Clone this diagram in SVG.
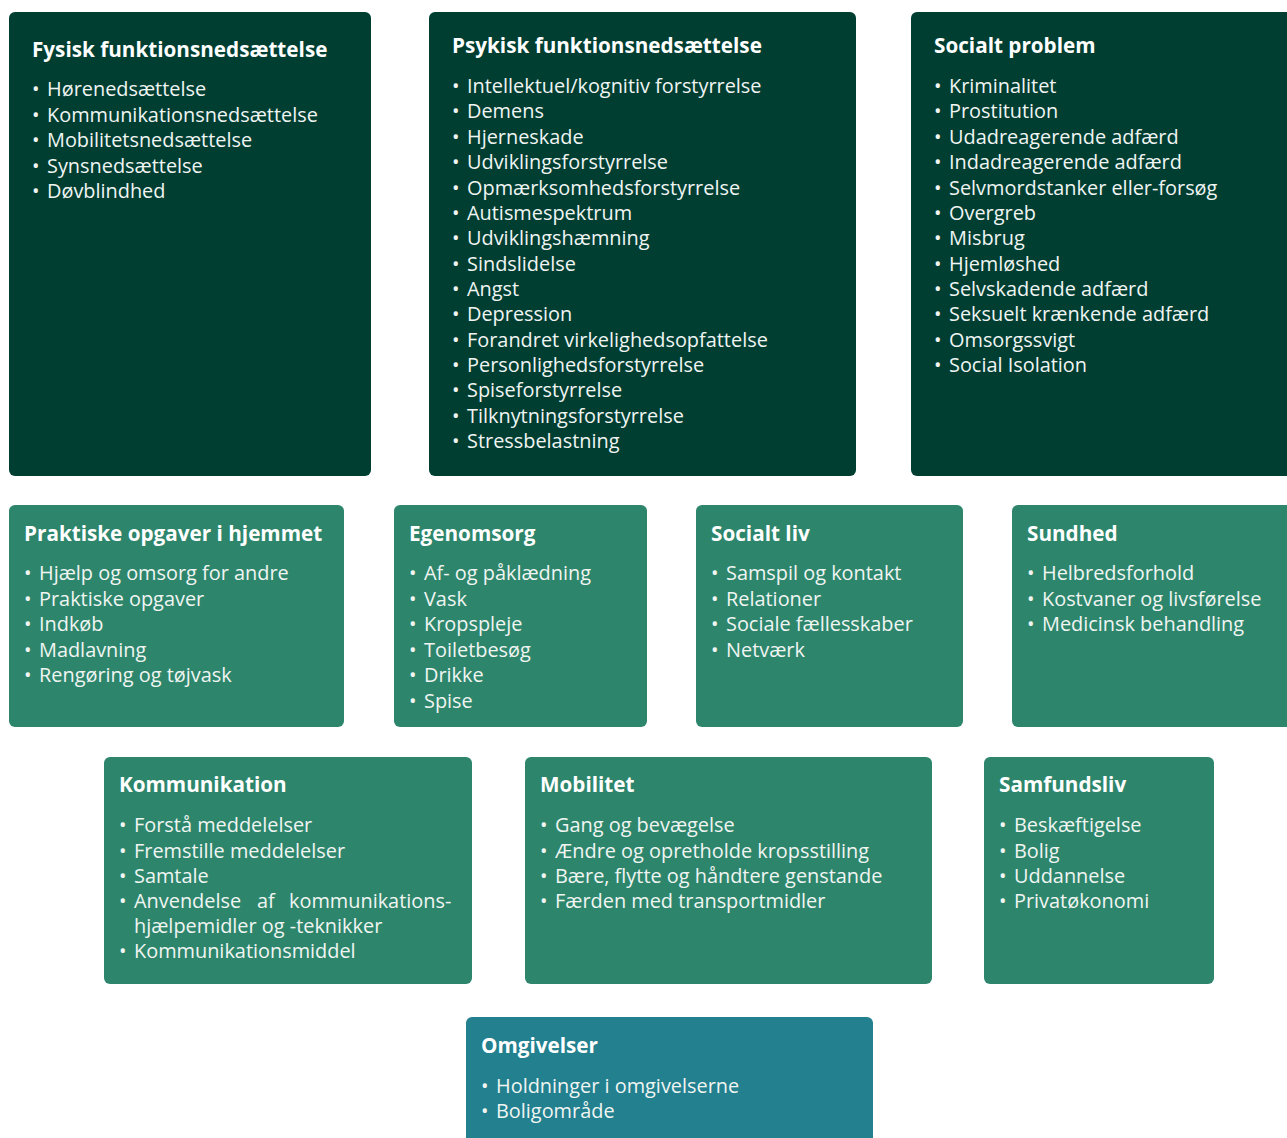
<svg xmlns="http://www.w3.org/2000/svg" width="1287" height="1138" viewBox="0 0 1287 1138">
<style>
.dark{fill:#003e32}
.mid{fill:#2d866c}
.teal{fill:#22808f}
.t{font-family:"Open Sans","Noto Sans",sans-serif;font-weight:700;font-size:20.7px;fill:#ffffff}
.i{font-family:"Open Sans","Noto Sans",sans-serif;font-weight:400;font-size:19.9px;fill:#f0f5f2}
</style>
<rect width="1287" height="1138" fill="#ffffff"/>
<g id="fysisk">
<rect class="dark" x="9" y="12" width="362" height="464" rx="6"/>
<text class="t" x="32" y="57">Fysisk funktionsnedsættelse</text>
<text class="i"><tspan x="32" y="96">•</tspan><tspan x="47" y="96">Hørenedsættelse</tspan><tspan x="32" y="122">•</tspan><tspan x="47" y="122">Kommunikationsnedsættelse</tspan><tspan x="32" y="147">•</tspan><tspan x="47" y="147">Mobilitetsnedsættelse</tspan><tspan x="32" y="173">•</tspan><tspan x="47" y="173">Synsnedsættelse</tspan><tspan x="32" y="198">•</tspan><tspan x="47" y="198">Døvblindhed</tspan></text>
</g>
<g id="psykisk">
<rect class="dark" x="429" y="12" width="427" height="464" rx="6"/>
<text class="t" x="452" y="53">Psykisk funktionsnedsættelse</text>
<text class="i"><tspan x="452" y="93">•</tspan><tspan x="467" y="93">Intellektuel/kognitiv forstyrrelse</tspan><tspan x="452" y="118">•</tspan><tspan x="467" y="118">Demens</tspan><tspan x="452" y="144">•</tspan><tspan x="467" y="144">Hjerneskade</tspan><tspan x="452" y="169">•</tspan><tspan x="467" y="169">Udviklingsforstyrrelse</tspan><tspan x="452" y="195">•</tspan><tspan x="467" y="195">Opmærksomhedsforstyrrelse</tspan><tspan x="452" y="220">•</tspan><tspan x="467" y="220">Autismespektrum</tspan><tspan x="452" y="245">•</tspan><tspan x="467" y="245">Udviklingshæmning</tspan><tspan x="452" y="271">•</tspan><tspan x="467" y="271">Sindslidelse</tspan><tspan x="452" y="296">•</tspan><tspan x="467" y="296">Angst</tspan><tspan x="452" y="321">•</tspan><tspan x="467" y="321">Depression</tspan><tspan x="452" y="347">•</tspan><tspan x="467" y="347">Forandret virkelighedsopfattelse</tspan><tspan x="452" y="372">•</tspan><tspan x="467" y="372">Personlighedsforstyrrelse</tspan><tspan x="452" y="397">•</tspan><tspan x="467" y="397">Spiseforstyrrelse</tspan><tspan x="452" y="423">•</tspan><tspan x="467" y="423">Tilknytningsforstyrrelse</tspan><tspan x="452" y="448">•</tspan><tspan x="467" y="448">Stressbelastning</tspan></text>
</g>
<g id="socialt-problem">
<rect class="dark" x="911" y="12" width="390" height="464" rx="6"/>
<text class="t" x="934" y="53">Socialt problem</text>
<text class="i"><tspan x="934" y="93">•</tspan><tspan x="949" y="93">Kriminalitet</tspan><tspan x="934" y="118">•</tspan><tspan x="949" y="118">Prostitution</tspan><tspan x="934" y="144">•</tspan><tspan x="949" y="144">Udadreagerende adfærd</tspan><tspan x="934" y="169">•</tspan><tspan x="949" y="169">Indadreagerende adfærd</tspan><tspan x="934" y="195">•</tspan><tspan x="949" y="195">Selvmordstanker eller-forsøg</tspan><tspan x="934" y="220">•</tspan><tspan x="949" y="220">Overgreb</tspan><tspan x="934" y="245">•</tspan><tspan x="949" y="245">Misbrug</tspan><tspan x="934" y="271">•</tspan><tspan x="949" y="271">Hjemløshed</tspan><tspan x="934" y="296">•</tspan><tspan x="949" y="296">Selvskadende adfærd</tspan><tspan x="934" y="321">•</tspan><tspan x="949" y="321">Seksuelt krænkende adfærd</tspan><tspan x="934" y="347">•</tspan><tspan x="949" y="347">Omsorgssvigt</tspan><tspan x="934" y="372">•</tspan><tspan x="949" y="372">Social Isolation</tspan></text>
</g>
<g id="praktiske">
<rect class="mid" x="9" y="505" width="335" height="222" rx="6"/>
<text class="t" x="24" y="541">Praktiske opgaver i hjemmet</text>
<text class="i"><tspan x="24" y="580">•</tspan><tspan x="39" y="580">Hjælp og omsorg for andre</tspan><tspan x="24" y="606">•</tspan><tspan x="39" y="606">Praktiske opgaver</tspan><tspan x="24" y="631">•</tspan><tspan x="39" y="631">Indkøb</tspan><tspan x="24" y="657">•</tspan><tspan x="39" y="657">Madlavning</tspan><tspan x="24" y="682">•</tspan><tspan x="39" y="682">Rengøring og tøjvask</tspan></text>
</g>
<g id="egenomsorg">
<rect class="mid" x="394" y="505" width="253" height="222" rx="6"/>
<text class="t" x="409" y="541">Egenomsorg</text>
<text class="i"><tspan x="409" y="580">•</tspan><tspan x="424" y="580">Af- og påklædning</tspan><tspan x="409" y="606">•</tspan><tspan x="424" y="606">Vask</tspan><tspan x="409" y="631">•</tspan><tspan x="424" y="631">Kropspleje</tspan><tspan x="409" y="657">•</tspan><tspan x="424" y="657">Toiletbesøg</tspan><tspan x="409" y="682">•</tspan><tspan x="424" y="682">Drikke</tspan><tspan x="409" y="708">•</tspan><tspan x="424" y="708">Spise</tspan></text>
</g>
<g id="socialt-liv">
<rect class="mid" x="696" y="505" width="267" height="222" rx="6"/>
<text class="t" x="711" y="541">Socialt liv</text>
<text class="i"><tspan x="711" y="580">•</tspan><tspan x="726" y="580">Samspil og kontakt</tspan><tspan x="711" y="606">•</tspan><tspan x="726" y="606">Relationer</tspan><tspan x="711" y="631">•</tspan><tspan x="726" y="631">Sociale fællesskaber</tspan><tspan x="711" y="657">•</tspan><tspan x="726" y="657">Netværk</tspan></text>
</g>
<g id="sundhed">
<rect class="mid" x="1012" y="505" width="290" height="222" rx="6"/>
<text class="t" x="1027" y="541">Sundhed</text>
<text class="i"><tspan x="1027" y="580">•</tspan><tspan x="1042" y="580">Helbredsforhold</tspan><tspan x="1027" y="606">•</tspan><tspan x="1042" y="606">Kostvaner og livsførelse</tspan><tspan x="1027" y="631">•</tspan><tspan x="1042" y="631">Medicinsk behandling</tspan></text>
</g>
<g id="kommunikation">
<rect class="mid" x="104" y="757" width="368" height="227" rx="6"/>
<text class="t" x="119" y="792">Kommunikation</text>
<text class="i"><tspan x="119" y="832">•</tspan><tspan x="134" y="832">Forstå meddelelser</tspan><tspan x="119" y="858">•</tspan><tspan x="134" y="858">Fremstille meddelelser</tspan><tspan x="119" y="883">•</tspan><tspan x="134" y="883">Samtale</tspan><tspan x="119" y="908">•</tspan><tspan x="134" y="908">Anvendelse</tspan><tspan x="257" y="908">af</tspan><tspan x="289" y="908">kommunikations-</tspan><tspan x="134" y="933">hjælpemidler og -teknikker</tspan><tspan x="119" y="958">•</tspan><tspan x="134" y="958">Kommunikationsmiddel</tspan></text>
</g>
<g id="mobilitet">
<rect class="mid" x="525" y="757" width="407" height="227" rx="6"/>
<text class="t" x="540" y="792">Mobilitet</text>
<text class="i"><tspan x="540" y="832">•</tspan><tspan x="555" y="832">Gang og bevægelse</tspan><tspan x="540" y="858">•</tspan><tspan x="555" y="858">Ændre og opretholde kropsstilling</tspan><tspan x="540" y="883">•</tspan><tspan x="555" y="883">Bære, flytte og håndtere genstande</tspan><tspan x="540" y="908">•</tspan><tspan x="555" y="908">Færden med transportmidler</tspan></text>
</g>
<g id="samfundsliv">
<rect class="mid" x="984" y="757" width="230" height="227" rx="6"/>
<text class="t" x="999" y="792">Samfundsliv</text>
<text class="i"><tspan x="999" y="832">•</tspan><tspan x="1014" y="832">Beskæftigelse</tspan><tspan x="999" y="858">•</tspan><tspan x="1014" y="858">Bolig</tspan><tspan x="999" y="883">•</tspan><tspan x="1014" y="883">Uddannelse</tspan><tspan x="999" y="908">•</tspan><tspan x="1014" y="908">Privatøkonomi</tspan></text>
</g>
<g id="omgivelser">
<rect class="teal" x="466" y="1017" width="407" height="140" rx="6"/>
<text class="t" x="481" y="1053">Omgivelser</text>
<text class="i"><tspan x="481" y="1093">•</tspan><tspan x="496" y="1093">Holdninger i omgivelserne</tspan><tspan x="481" y="1118">•</tspan><tspan x="496" y="1118">Boligområde</tspan></text>
</g>
<g id="connectors"/>
</svg>
